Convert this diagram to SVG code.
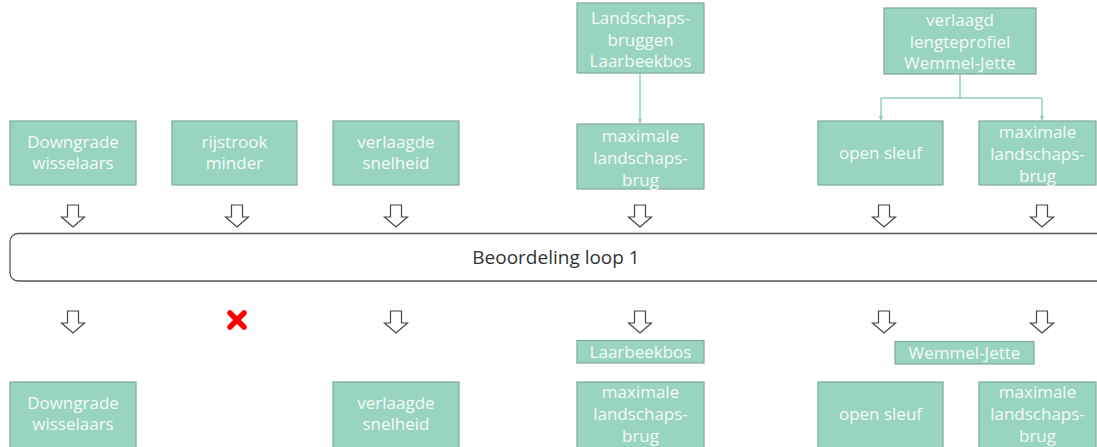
<svg xmlns="http://www.w3.org/2000/svg" width="1097" height="447" viewBox="0 0 1097 447">
<style>
.box{fill:#98d4c0;stroke:#7faa9b;stroke-width:1.2}
.t{font-family:"Open Sans","Noto Sans",sans-serif;font-size:17px;fill:#f4fbf8;text-anchor:middle}
.conn{fill:none;stroke:#8fd0bb;stroke-width:1.5}
.ha{fill:#fff;stroke:#444;stroke-width:1.2;stroke-linejoin:miter}
.main{fill:#fff;stroke:#555;stroke-width:1.3}
.mt{font-family:"Open Sans","Noto Sans",sans-serif;font-size:19px;fill:#333;text-anchor:middle}
</style>
<defs>
<marker id="ah" viewBox="0 0 10 10" refX="9" refY="5" markerWidth="5" markerHeight="5" orient="auto" markerUnits="userSpaceOnUse">
<path d="M0,0 L10,5 L0,10 z" fill="#8fd0bb"/>
</marker>
<path id="harrow" class="ha" d="M-5.5,0 h11 v12 h6 l-11.5,10 l-11.5,-10 h6 z"/>
</defs>
<rect width="1097" height="447" fill="#fff"/>

<g id="connectors">
<path class="conn" d="M640,73 V123" marker-end="url(#ah)"/>
<path class="conn" d="M960,74 V98 M881,98 H1042"/>
<path class="conn" d="M881,98 V120" marker-end="url(#ah)"/>
<path class="conn" d="M1042,98 V120" marker-end="url(#ah)"/>
</g>

<g id="arrows-top">
<use href="#harrow" x="73" y="205"/>
<use href="#harrow" x="237" y="205"/>
<use href="#harrow" x="396" y="205"/>
<use href="#harrow" x="640" y="205"/>
<use href="#harrow" x="884" y="205"/>
<use href="#harrow" x="1042" y="205"/>
</g>
<g id="arrows-bottom">
<use href="#harrow" x="73" y="311"/>
<use href="#harrow" x="396" y="311"/>
<use href="#harrow" x="640" y="311"/>
<use href="#harrow" x="884" y="311"/>
<use href="#harrow" x="1042" y="311"/>
</g>
<g id="reject">
<path d="M230,313 L244,327 M244,313 L230,327" stroke="#ff0000" stroke-width="5.5" stroke-linecap="round" fill="none"/>
</g>

<g id="beoordeling">
<rect class="main" x="10" y="233.5" width="1110" height="47.5" rx="8"/>
<text class="mt" x="556" y="263.5">Beoordeling loop 1</text>
</g>

<g id="n-landschapsbruggen">
<rect class="box" x="577" y="3" width="127" height="70"/>
<text class="t" x="640.5" y="24">Landschaps-</text>
<text class="t" x="640.5" y="46">bruggen</text>
<text class="t" x="640.5" y="67">Laarbeekbos</text>
</g>
<g id="n-lengteprofiel">
<rect class="box" x="884" y="8" width="152" height="66"/>
<text class="t" x="960" y="26">verlaagd</text>
<text class="t" x="960" y="48">lengteprofiel</text>
<text class="t" x="960" y="69">Wemmel-Jette</text>
</g>

<g id="n-downgrade-1">
<rect class="box" x="10" y="121" width="126" height="64"/>
<text class="t" x="73" y="148">Downgrade</text>
<text class="t" x="73" y="169">wisselaars</text>
</g>
<g id="n-rijstrook-1">
<rect class="box" x="172" y="121" width="125" height="64"/>
<text class="t" x="234.5" y="148">rijstrook</text>
<text class="t" x="234.5" y="169">minder</text>
</g>
<g id="n-snelheid-1">
<rect class="box" x="333" y="121" width="126" height="64"/>
<text class="t" x="396" y="148">verlaagde</text>
<text class="t" x="396" y="169">snelheid</text>
</g>
<g id="n-maxbrug-1">
<rect class="box" x="577" y="124" width="127" height="65"/>
<text class="t" x="640.5" y="142">maximale</text>
<text class="t" x="640.5" y="164">landschaps-</text>
<text class="t" x="640.5" y="186">brug</text>
</g>
<g id="n-opensleuf-1">
<rect class="box" x="818" y="121" width="125" height="64"/>
<text class="t" x="880.5" y="159">open sleuf</text>
</g>
<g id="n-maxbrug-2">
<rect class="box" x="979" y="121" width="117" height="64"/>
<text class="t" x="1037.5" y="138">maximale</text>
<text class="t" x="1037.5" y="160">landschaps-</text>
<text class="t" x="1037.5" y="182">brug</text>
</g>

<g id="l-laarbeekbos">
<rect class="box" x="577" y="340.5" width="127" height="22.5"/>
<text class="t" x="640.5" y="358">Laarbeekbos</text>
</g>
<g id="l-wemmel">
<rect class="box" x="895" y="341.5" width="139" height="22.5"/>
<text class="t" x="964.5" y="359">Wemmel-Jette</text>
</g>

<g id="n-downgrade-2">
<rect class="box" x="10" y="382" width="126" height="70"/>
<text class="t" x="73" y="409">Downgrade</text>
<text class="t" x="73" y="430">wisselaars</text>
</g>
<g id="n-snelheid-2">
<rect class="box" x="333" y="382" width="126" height="70"/>
<text class="t" x="396" y="409">verlaagde</text>
<text class="t" x="396" y="430">snelheid</text>
</g>
<g id="n-maxbrug-3">
<rect class="box" x="577" y="382" width="127" height="70"/>
<text class="t" x="640.5" y="398">maximale</text>
<text class="t" x="640.5" y="420">landschaps-</text>
<text class="t" x="640.5" y="442">brug</text>
</g>
<g id="n-opensleuf-2">
<rect class="box" x="818" y="382" width="125" height="70"/>
<text class="t" x="880.5" y="420">open sleuf</text>
</g>
<g id="n-maxbrug-4">
<rect class="box" x="979" y="382" width="117" height="70"/>
<text class="t" x="1037.5" y="398">maximale</text>
<text class="t" x="1037.5" y="420">landschaps-</text>
<text class="t" x="1037.5" y="442">brug</text>
</g>
</svg>
